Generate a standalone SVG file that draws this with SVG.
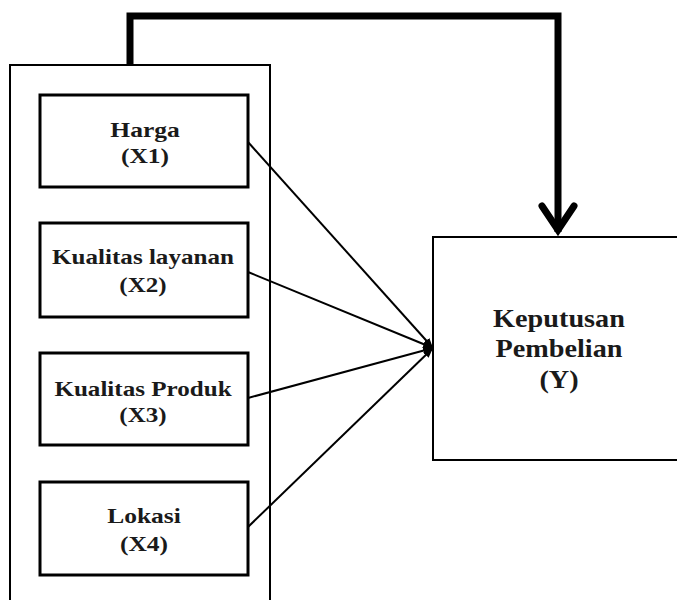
<svg xmlns="http://www.w3.org/2000/svg" width="677" height="600" viewBox="0 0 677 600">
<style>
.box{fill:#fff;stroke:#000;stroke-width:3}
.frame{fill:none;stroke:#000;stroke-width:2}
.t{font-family:"Liberation Serif","Times New Roman",serif;font-weight:bold;font-size:22px;fill:#1a1a1a;text-anchor:middle}
.ty{font-size:25px}
.con{stroke:#000;stroke-width:2;fill:none}
.thick{stroke:#000;stroke-width:7;fill:none;stroke-linejoin:miter}
</style>
<defs>
<marker id="ah" viewBox="0 0 10 8" refX="10" refY="4" markerWidth="10" markerHeight="8" markerUnits="userSpaceOnUse" orient="auto">
<path d="M0,0 L10,4 L0,8 Z" fill="#000"/>
</marker>
</defs>
<rect class="frame" x="10" y="65" width="260" height="545"/>
<g id="Y">
<rect class="frame" x="433" y="237" width="260" height="223"/>
<g transform="translate(559,0) scale(1.13,1)">
<text class="t ty" x="0" y="327">Keputusan</text>
<text class="t ty" x="0" y="357">Pembelian</text>
<text class="t ty" x="0" y="388">(Y)</text>
</g>
</g>
<g id="X1">
<rect class="box" x="40" y="95" width="208" height="92"/>
<g transform="translate(145,0) scale(1.16,1)">
<text class="t" x="0" y="137">Harga</text>
<text class="t" x="0" y="163">(X1)</text>
</g>
</g>
<g id="X2">
<rect class="box" x="40" y="223" width="208" height="94"/>
<g transform="translate(143,0) scale(1.14,1)">
<text class="t" x="0" y="264">Kualitas layanan</text>
<text class="t" x="0" y="292">(X2)</text>
</g>
</g>
<g id="X3">
<rect class="box" x="40" y="353" width="208" height="92"/>
<g transform="translate(143,0) scale(1.14,1)">
<text class="t" x="0" y="396">Kualitas Produk</text>
<text class="t" x="0" y="422">(X3)</text>
</g>
</g>
<g id="X4">
<rect class="box" x="40" y="482" width="208" height="93"/>
<g transform="translate(144,0) scale(1.16,1)">
<text class="t" x="0" y="523">Lokasi</text>
<text class="t" x="0" y="551">(X4)</text>
</g>
</g>
<g id="connectors">
<line class="con" x1="248" y1="142" x2="433" y2="348" marker-end="url(#ah)"/>
<line class="con" x1="248" y1="272" x2="433" y2="348" marker-end="url(#ah)"/>
<line class="con" x1="248" y1="398" x2="433" y2="348" marker-end="url(#ah)"/>
<line class="con" x1="248" y1="527" x2="433" y2="348" marker-end="url(#ah)"/>
<path class="thick" d="M130,65 V16 H558 V232"/>
<path class="thick" d="M542,206 L558,230 L574,206" stroke-linecap="round"/>
</g>
</svg>
